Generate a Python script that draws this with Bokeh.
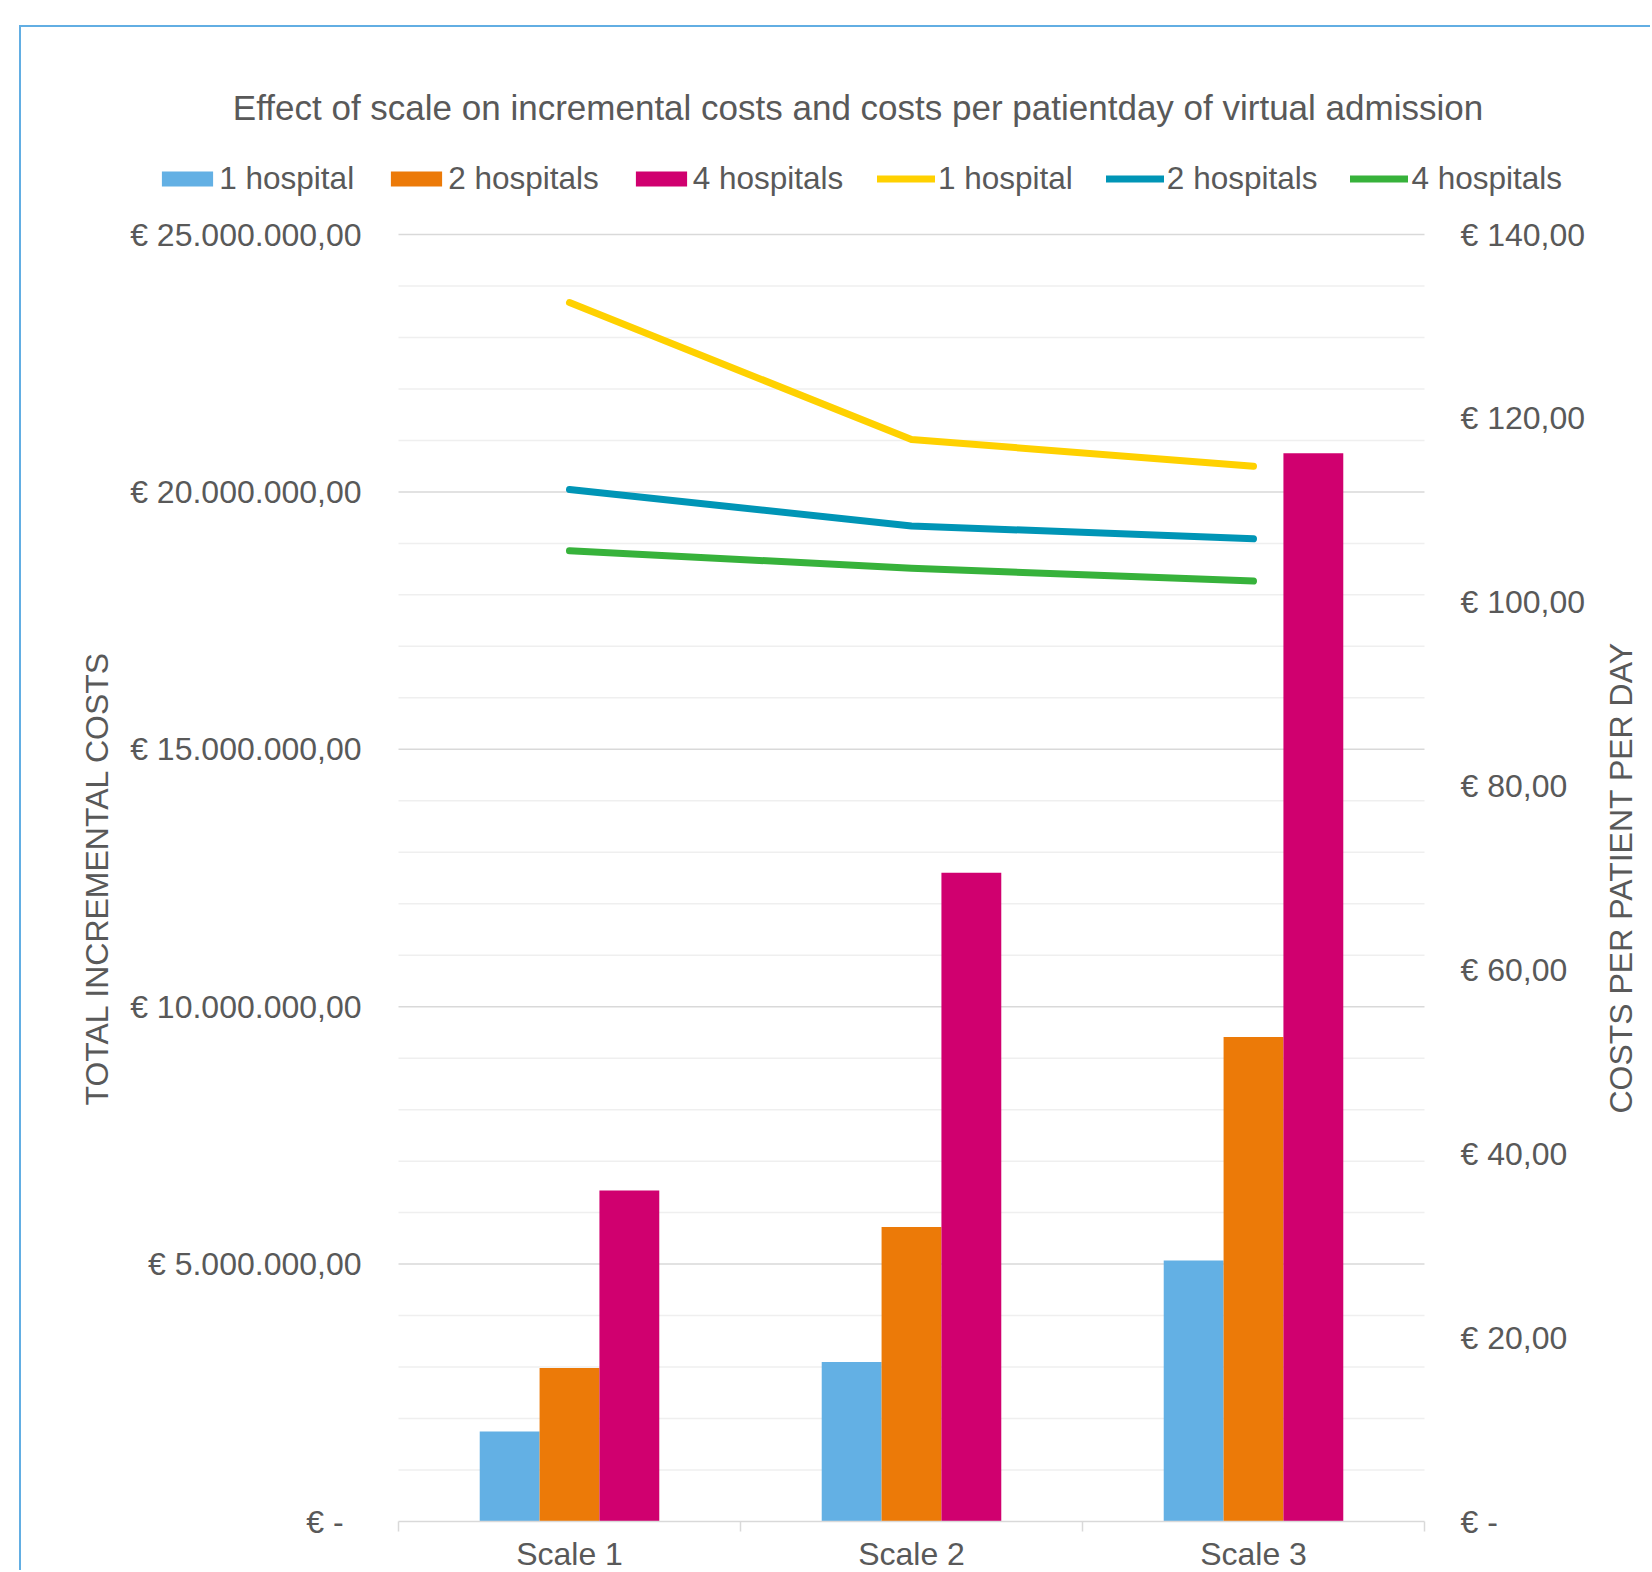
import math
from bokeh.plotting import figure
from bokeh.models import (Range1d, LinearAxis, FixedTicker, CustomJSTickFormatter,
                          ColumnDataSource, Legend, LegendItem, Label)
from bokeh.transform import dodge
from bokeh.embed import file_html
from bokeh.resources import INLINE

# ---------------- data ----------------
categories = ["Scale 1", "Scale 2", "Scale 3"]
series_names = ["1 hospital", "2 hospitals", "4 hospitals"]

# total incremental costs (left axis, EUR)
total_costs_1_hospital = [1750000, 3100000, 5070000]
total_costs_2_hospitals = [2980000, 5720000, 9410000]
total_costs_4_hospitals = [6430000, 12600000, 20750000]

# costs per patient per day (right axis, EUR)
per_day_1_hospital = [132.6, 117.7, 114.8]
per_day_2_hospitals = [112.25, 108.3, 106.9]
per_day_4_hospitals = [105.6, 103.7, 102.3]

left_ticks = [0, 5000000, 10000000, 15000000, 20000000, 25000000]
left_minor_step = 1000000
right_ticks = [0, 20, 40, 60, 80, 100, 120, 140]

title_text = "Effect of scale on incremental costs and costs per patientday of virtual admission"
left_label = "TOTAL INCREMENTAL COSTS"
right_label = "COSTS PER PATIENT PER DAY"

# ---------------- styles / layout ----------------
bar_colors = ["#63B0E4", "#EC7A08", "#D0006F"]
line_colors = ["#FFD100", "#0095B6", "#37B23B"]
TXT = "#595959"
FONT = "Liberation Sans"
BORDER = "2px solid #62AEE3"

# page geometry (px)
OFF_X, OFF_Y = 21, 27              # card content corner (inside 2px border)
PAGE_W, PAGE_H = 1652, 1572
W, H = PAGE_W - OFF_X, PAGE_H - OFF_Y
FL, FR = 398, 1424                 # plot area left / right
FT, FB = 234, 1521                 # plot area top (top tick) / bottom (zero)
LEG_H, LEG_CY = 38.6, 177.3        # legend row height / centre
TITLE_CX, TITLE_CY = 857.5, 107.2  # title centre
RLAB_CX = 1620                     # right axis title centre x

n = len(categories)
ppx = (FR - FL) / n
ymax_l, ymax_r = left_ticks[-1], right_ticks[-1]
x_range = Range1d(-(FL - OFF_X) / ppx, n + (PAGE_W - FR) / ppx)
y_range = Range1d(-(PAGE_H - FB) / (FB - FT) * ymax_l, ymax_l + (FT - OFF_Y) / (FB - FT) * ymax_l)
yr_right = Range1d(-(PAGE_H - FB) / (FB - FT) * ymax_r, ymax_r + (FT - OFF_Y) / (FB - FT) * ymax_r)

xs = [i + 0.5 for i in range(n)]
src = ColumnDataSource(dict(
    x=xs, cat=categories,
    b1=total_costs_1_hospital, b2=total_costs_2_hospitals, b4=total_costs_4_hospitals,
    l1=per_day_1_hospital, l2=per_day_2_hospitals, l4=per_day_4_hospitals,
))

p = figure(width=W, height=H, output_backend="svg", toolbar_location=None,
           x_range=x_range, y_range=y_range,
           min_border_left=0, min_border_right=0, min_border_top=0, min_border_bottom=0,
           background_fill_color="white", border_fill_color="white")
p.outline_line_color = None
p.margin = (OFF_Y - 2, 0, 0, OFF_X - 2)
p.styles = {"border-left": BORDER, "border-top": BORDER}
p.extra_y_ranges = {"right": yr_right}
p.xgrid.visible = False
p.ygrid.visible = False

fmt_code = r"""
if (Math.abs(tick) < 1e-9) { return zero; }
const s = tick.toFixed(2);
const parts = s.split(".");
const ip = parts[0].replace(/\B(?=(\d{3})+(?!\d))/g, ".");
return "€ " + ip + "," + parts[1];
"""

# ---------- left axis (pinned to the start of the category range) ----------
ya = p.yaxis[0]
ya.fixed_location = 0
ya.bounds = (0, ymax_l)
ya.ticker = FixedTicker(ticks=left_ticks)
ya.formatter = CustomJSTickFormatter(args=dict(zero="€ -\u2007"), code=fmt_code)
ya.axis_line_color = None
ya.major_tick_line_color = None
ya.minor_tick_line_color = None
ya.major_tick_out = 0
ya.minor_tick_out = 0
ya.major_label_standoff = 37
ya.major_label_text_font = FONT
ya.major_label_text_font_size = "32px"
ya.major_label_text_color = TXT
ya.axis_label = left_label
ya.axis_label_text_font = FONT
ya.axis_label_text_font_size = "32px"
ya.axis_label_text_font_style = "normal"
ya.axis_label_text_color = TXT
ya.axis_label_standoff = 12

# ---------- right axis (pinned to the end of the category range) ----------
ra = LinearAxis(y_range_name="right", ticker=FixedTicker(ticks=right_ticks),
                formatter=CustomJSTickFormatter(args=dict(zero="€ -"), code=fmt_code))
ra.fixed_location = n
ra.bounds = (0, ymax_r)
ra.axis_line_color = None
ra.major_tick_line_color = None
ra.minor_tick_line_color = None
ra.major_tick_out = 0
ra.minor_tick_out = 0
ra.major_label_standoff = 36
ra.major_label_text_font = FONT
ra.major_label_text_font_size = "32px"
ra.major_label_text_color = TXT
p.add_layout(ra, "right")

# right axis title (reads bottom-to-top, centred on the axis span)
rlab = Label(x=RLAB_CX - OFF_X, y=PAGE_H - (FT + FB) / 2, x_units="screen", y_units="screen",
             text=right_label, angle=math.pi / 2, text_align="center", text_baseline="middle",
             text_font=FONT, text_font_size="32px", text_color=TXT)
p.add_layout(rlab)

# ---------- x axis (pinned at zero) ----------
xa = p.xaxis[0]
xa.fixed_location = 0
xa.bounds = (0, n)
xa.ticker = FixedTicker(ticks=xs, minor_ticks=list(range(n + 1)))
xa.formatter = CustomJSTickFormatter(args=dict(cats=categories),
                                     code="return cats[Math.floor(tick)];")
xa.axis_line_color = "#D9D9D9"
xa.axis_line_width = 1.5
xa.major_tick_line_color = None
xa.major_tick_out = 0
xa.major_tick_in = 0
xa.minor_tick_line_color = "#D9D9D9"
xa.minor_tick_line_width = 1.5
xa.minor_tick_out = 10
xa.minor_tick_in = 0
xa.major_label_standoff = 4
xa.major_label_text_font = FONT
xa.major_label_text_font_size = "32px"
xa.major_label_text_color = TXT

# ---------- horizontal gridlines over the category range ----------
minor_vals = [v for v in range(0, ymax_l + 1, left_minor_step) if v not in left_ticks]
p.segment(x0=[0] * len(minor_vals), x1=[n] * len(minor_vals), y0=minor_vals, y1=minor_vals,
          line_color="#EFEFEF", line_width=1.5)
major_vals = [v for v in left_ticks if v > 0]
p.segment(x0=[0] * len(major_vals), x1=[n] * len(major_vals), y0=major_vals, y1=major_vals,
          line_color="#D9D9D9", line_width=1.5)

# ---------- bars ----------
bw = 0.175
bar_keys = ["b1", "b2", "b4"]
bar_r = []
for k, (key, col) in enumerate(zip(bar_keys, bar_colors)):
    bar_r.append(p.vbar(x=dodge("x", (k - 1) * bw, range=p.x_range), top=key, width=bw, bottom=0,
                        source=src, fill_color=col, line_color=None))

# ---------- lines ----------
line_keys = ["l1", "l2", "l4"]
line_r = []
for key, col in zip(line_keys, line_colors):
    line_r.append(p.line(x="x", y=key, source=src, y_range_name="right", line_color=col,
                         line_width=7, line_cap="round", line_join="round"))

# ---------- legends (frame-relative screen positions) ----------
leg_common = dict(orientation="horizontal", padding=0, margin=0, border_line_color=None,
                  background_fill_alpha=0, label_text_font=FONT, label_text_font_size="31.5px",
                  label_text_color=TXT, glyph_height=19)
vy = PAGE_H - (LEG_CY + LEG_H / 2)
leg_bars = Legend(items=[LegendItem(label=s, renderers=[r]) for s, r in zip(series_names, bar_r)],
                  location=(155.3 - OFF_X, vy), glyph_width=64, label_standoff=0, spacing=30,
                  **leg_common)
leg_lines = Legend(items=[LegendItem(label=s, renderers=[r]) for s, r in zip(series_names, line_r)],
                   location=(877 - OFF_X, vy), glyph_width=58, label_standoff=3, spacing=33,
                   **leg_common)
p.add_layout(leg_bars, "center")
p.add_layout(leg_lines, "center")

# ---------- title ----------
title = Label(x=TITLE_CX - OFF_X, y=PAGE_H - TITLE_CY, x_units="screen", y_units="screen",
              text=title_text, text_align="center", text_baseline="middle", text_font=FONT,
              text_font_size="35px", text_color=TXT)
p.add_layout(title)

open("out.html", "w").write(file_html(p, INLINE))
